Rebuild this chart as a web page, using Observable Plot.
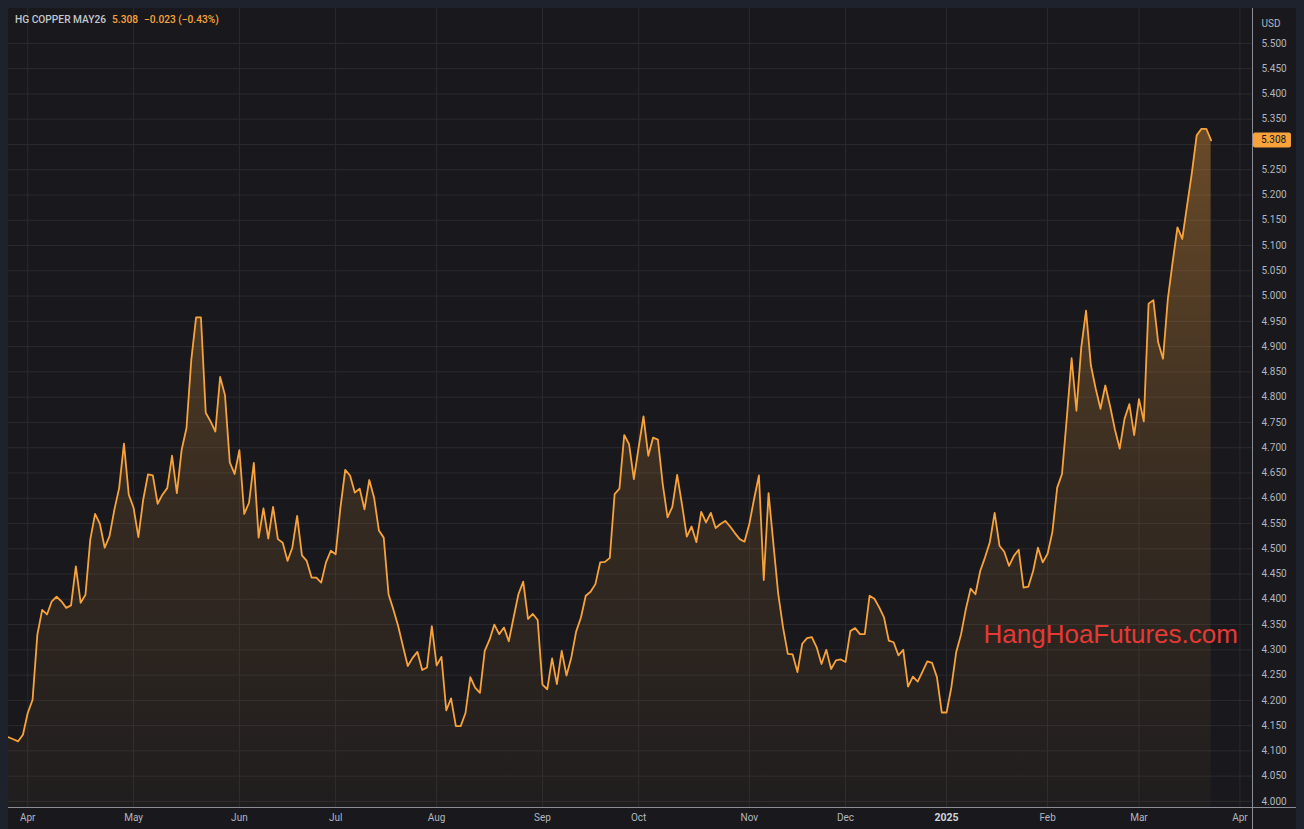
<!DOCTYPE html>
<html><head><meta charset="utf-8">
<script src="https://cdn.jsdelivr.net/npm/d3@7"></script>
<script src="https://cdn.jsdelivr.net/npm/@observablehq/plot@0.6"></script>
<style>
html,body{margin:0;padding:0;background:#1e222d;overflow:hidden;}
#wrap{position:absolute;left:8px;top:8px;width:1288px;height:821px;background:#19191d;}
</style></head><body><div id="wrap"></div>
<script>
const symbolName = "HG COPPER MAY26";
const lastText = "5.308";
const changeText = "−0.023 (−0.43%)";
const currency = "USD";
const watermark = "HangHoaFutures.com";

// daily prices, one per trading bar
const prices = [
4.127,4.123,4.119,4.132,4.175,4.201,4.330,4.379,4.370,4.396,
4.405,4.396,4.383,4.388,4.465,4.393,4.409,4.518,4.569,4.549,
4.502,4.525,4.577,4.620,4.708,4.607,4.581,4.523,4.597,4.647,
4.645,4.589,4.607,4.620,4.684,4.610,4.696,4.739,4.874,4.958,
4.958,4.769,4.752,4.732,4.840,4.804,4.671,4.648,4.695,4.569,
4.591,4.670,4.522,4.580,4.520,4.583,4.519,4.512,4.476,4.502,
4.565,4.487,4.476,4.443,4.443,4.433,4.473,4.496,4.489,4.581,
4.656,4.645,4.611,4.619,4.578,4.636,4.601,4.536,4.522,4.410,
4.380,4.347,4.307,4.268,4.284,4.296,4.260,4.265,4.347,4.269,
4.286,4.180,4.204,4.149,4.149,4.175,4.246,4.225,4.215,4.298,
4.320,4.350,4.331,4.344,4.317,4.364,4.410,4.435,4.361,4.371,
4.359,4.231,4.222,4.283,4.232,4.298,4.249,4.285,4.336,4.364,
4.407,4.415,4.430,4.473,4.474,4.482,4.608,4.619,4.725,4.707,
4.638,4.701,4.762,4.684,4.720,4.716,4.628,4.562,4.583,4.646,
4.588,4.524,4.544,4.513,4.573,4.552,4.571,4.541,4.549,4.555,
4.544,4.531,4.519,4.514,4.549,4.599,4.645,4.438,4.610,4.510,
4.411,4.345,4.292,4.291,4.256,4.312,4.323,4.325,4.305,4.272,
4.300,4.262,4.279,4.281,4.276,4.337,4.343,4.331,4.331,4.407,
4.401,4.384,4.364,4.318,4.315,4.289,4.300,4.227,4.247,4.237,
4.257,4.277,4.274,4.246,4.176,4.176,4.226,4.295,4.330,4.380,
4.421,4.410,4.456,4.483,4.513,4.571,4.506,4.494,4.466,4.486,
4.498,4.423,4.425,4.456,4.502,4.473,4.490,4.533,4.621,4.648,
4.759,4.877,4.773,4.898,4.971,4.863,4.817,4.777,4.823,4.782,
4.736,4.698,4.757,4.786,4.725,4.796,4.752,4.985,4.992,4.908,
4.876,4.994,5.067,5.136,5.113,5.179,5.244,5.318,5.331,5.331,
5.308
];

// month labels and the bar index where each month starts
const monthLabels = ["Apr","May","Jun","Jul","Aug","Sep","Oct","Nov","Dec","2025","Feb","Mar","Apr"];
const monthBars   = [4, 26, 48, 68, 89, 111, 131, 154, 174, 195, 216, 235, 256];

const yTicks = [4.00,4.05,4.10,4.15,4.20,4.25,4.30,4.35,4.40,4.45,4.50,4.55,4.60,4.65,4.70,4.75,
                4.80,4.85,4.90,4.95,5.00,5.05,5.10,5.15,5.20,5.25,5.30,5.35,5.40,5.45,5.50];

const data = prices.map((v, i) => ({i, v}));
const lastPrice = prices[prices.length - 1];
const yMin = 3.988, yMax = 5.569;
const orange = "#f7a23b";
const axisColor = "#b2b5be";
// the price tag hides the tick label it sits on
const yLabelTicks = yTicks.filter(t => Math.abs(t - lastPrice) > 0.015);

const gradient = () => {
  const defs = d3.create("svg:defs");
  const g = defs.append("linearGradient").attr("id", "cuGrad").attr("x1", 0).attr("x2", 0).attr("y1", 0).attr("y2", 1);
  g.append("stop").attr("offset", "0%").attr("stop-color", orange).attr("stop-opacity", 0.36);
  g.append("stop").attr("offset", "55%").attr("stop-color", orange).attr("stop-opacity", 0.13);
  g.append("stop").attr("offset", "100%").attr("stop-color", orange).attr("stop-opacity", 0.03);
  return defs.node();
};

const axisLines = (index, scales, values, dims) => {
  const g = d3.create("svg:g");
  const xr = dims.width - dims.marginRight;
  const yb = dims.height - dims.marginBottom;
  g.append("line").attr("x1", 0).attr("x2", dims.width).attr("y1", yb + 0.5).attr("y2", yb + 0.5)
    .attr("stroke", "#8a8d96").attr("stroke-width", 1);
  g.append("line").attr("x1", xr + 0.5).attr("x2", xr + 0.5).attr("y1", 0).attr("y2", dims.height)
    .attr("stroke", "#8a8d96").attr("stroke-width", 1);
  return g.node();
};

const priceTag = (index, scales, values, dims) => {
  const g = d3.create("svg:g");
  const y = scales.y(lastPrice);
  const x0 = dims.width - dims.marginRight + 1;
  g.append("rect").attr("x", x0).attr("y", y - 7.5).attr("width", 38).attr("height", 15)
    .attr("rx", 2).attr("fill", orange);
  g.append("text").attr("x", x0 + 8).attr("y", y).attr("dy", "0.35em")
    .attr("text-anchor", "start")
    .attr("fill", "#131722").attr("font-size", 10).attr("font-family", "Roboto")
    .text(lastText);
  return g.node();
};

const header = (index, scales, values, dims) => {
  const t = d3.create("svg:text").attr("x", 7).attr("y", 11).attr("dy", "0.35em")
    .attr("text-anchor", "start")
    .attr("font-size", 10.2).attr("font-family", "Roboto").attr("font-weight", 500);
  t.append("tspan").attr("fill", "#c3c6ce").text(symbolName);
  t.append("tspan").attr("fill", orange).attr("dx", 6).text(lastText);
  t.append("tspan").attr("fill", orange).attr("dx", 6).text(changeText);
  return t.node();
};

const labelOf = d => monthLabels[monthBars.indexOf(d)];

const chart = Plot.plot({
  width: 1288,
  height: 821,
  marginLeft: 0,
  marginTop: 0,
  marginRight: 44,
  marginBottom: 22,
  style: {background: "transparent", fontFamily: "Roboto", color: axisColor},
  x: {type: "linear", domain: [0, 258.6], axis: null},
  y: {domain: [yMin, yMax], axis: null},
  marks: [
    gradient,
    Plot.gridY(yTicks, {stroke: "#2a2a2f", strokeOpacity: 1}),
    Plot.gridX(monthBars, {stroke: "#2a2a2f", strokeOpacity: 1}),
    Plot.areaY(data, {x: "i", y1: yMin, y2: "v", fill: "url(#cuGrad)", curve: "linear"}),
    Plot.lineY(data, {x: "i", y: "v", stroke: orange, strokeWidth: 1.8, curve: "linear"}),
    axisLines,
    Plot.axisY(yLabelTicks, {anchor: "right", tickSize: 0, tickPadding: 9, tickFormat: d3.format(".3f"),
      fontSize: 10, fill: axisColor, label: null}),
    Plot.axisX(monthBars.filter(d => labelOf(d) !== "2025"), {anchor: "bottom", tickSize: 0, tickPadding: 6,
      tickFormat: labelOf, fontSize: 10, fill: axisColor, label: null}),
    Plot.axisX(monthBars.filter(d => labelOf(d) === "2025"), {anchor: "bottom", tickSize: 0, tickPadding: 6,
      tickFormat: labelOf, fontSize: 10.5, fontWeight: "bold", fill: "#d1d4dc", label: null}),
    Plot.text([currency], {frameAnchor: "top-right", dx: 9, dy: 11, textAnchor: "start", fontSize: 10, fill: axisColor}),
    Plot.text([watermark], {frameAnchor: "top-left", dx: 975, dy: 634, lineAnchor: "bottom", textAnchor: "start",
      fontSize: 26, fill: "#e53935", fontFamily: "Liberation Sans"}),
    priceTag,
    header
  ]
});
document.getElementById("wrap").appendChild(chart);
</script>
</body></html>
